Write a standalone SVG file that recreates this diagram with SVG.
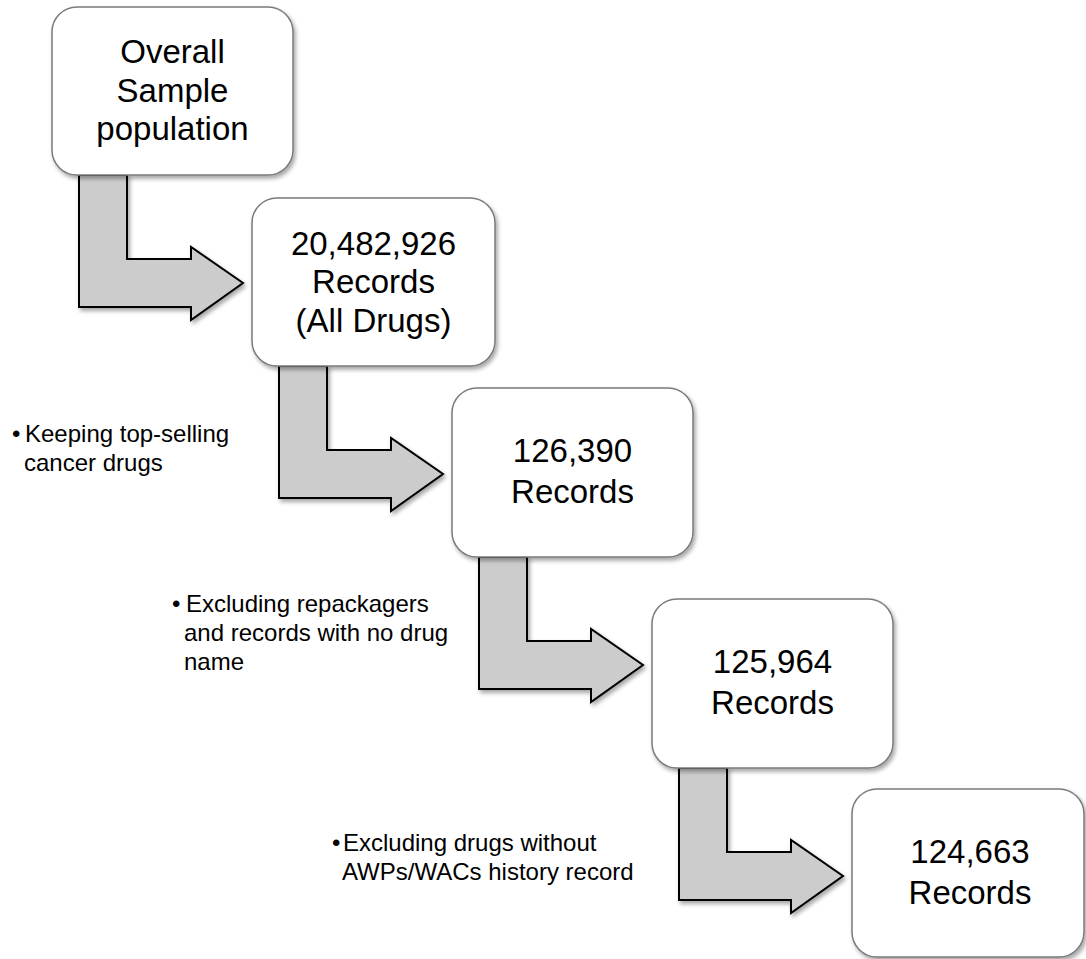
<svg xmlns="http://www.w3.org/2000/svg" width="1086" height="959" viewBox="0 0 1086 959">
  <defs>
    <filter id="shadow" x="-10%" y="-10%" width="130%" height="130%">
      <feDropShadow dx="2" dy="3" stdDeviation="2" flood-color="#000" flood-opacity="0.35"/>
    </filter>
    <style>
      .box { fill: #ffffff; stroke: #7a7a7a; stroke-width: 1.5; filter: url(#shadow); }
      .arrow { fill: #cccccc; stroke: #000000; stroke-width: 2; stroke-linejoin: miter; filter: url(#shadow); }
      .btxt { font-family: "Liberation Sans", Arial, sans-serif; font-size: 33px; fill: #000; text-anchor: middle; }
      .ltxt { font-family: "Liberation Sans", Arial, sans-serif; font-size: 24px; fill: #000; }
    </style>
  </defs>
  <rect width="1086" height="959" fill="#ffffff"/>

  <g id="connectors">
    <path class="arrow" d="M79,175 L127,175 L127,259 L191,259 L191,247 L243,283 L191,320 L191,307 L79,307 Z"/>
    <path class="arrow" d="M279,366 L327,366 L327,450 L391,450 L391,438 L443,474 L391,511 L391,498 L279,498 Z"/>
    <path class="arrow" d="M479,557 L527,557 L527,641 L591,641 L591,629 L643,665 L591,702 L591,689 L479,689 Z"/>
    <path class="arrow" d="M679,768 L727,768 L727,852 L791,852 L791,840 L843,876 L791,913 L791,900 L679,900 Z"/>
  </g>

  <g id="node-overall">
    <rect class="box" x="52" y="7" width="241" height="168" rx="25" ry="25"/>
    <text class="btxt" x="172.5" y="63">Overall</text>
    <text class="btxt" x="172.5" y="102">Sample</text>
    <text class="btxt" x="172.5" y="140">population</text>
  </g>

  <g id="node-all-drugs">
    <rect class="box" x="252" y="198" width="243" height="168" rx="25" ry="25"/>
    <text class="btxt" x="373.5" y="255">20,482,926</text>
    <text class="btxt" x="373.5" y="293">Records</text>
    <text class="btxt" x="373.5" y="332">(All Drugs)</text>
  </g>

  <g id="node-126390">
    <rect class="box" x="452" y="388" width="241" height="169" rx="25" ry="25"/>
    <text class="btxt" x="572.5" y="462">126,390</text>
    <text class="btxt" x="572.5" y="503">Records</text>
  </g>

  <g id="node-125964">
    <rect class="box" x="652" y="599" width="241" height="169" rx="25" ry="25"/>
    <text class="btxt" x="772.5" y="673">125,964</text>
    <text class="btxt" x="772.5" y="714">Records</text>
  </g>

  <g id="node-124663">
    <rect class="box" x="852" y="789" width="232" height="168" rx="25" ry="25"/>
    <text class="btxt" x="970" y="863">124,663</text>
    <text class="btxt" x="970" y="904">Records</text>
  </g>

  <g id="label-keeping">
    <text class="ltxt" y="442"><tspan x="12">•</tspan><tspan x="25">Keeping top-selling</tspan></text>
    <text class="ltxt" x="24" y="471">cancer drugs</text>
  </g>

  <g id="label-repackagers">
    <text class="ltxt" y="612"><tspan x="172">•</tspan><tspan x="186">Excluding repackagers</tspan></text>
    <text class="ltxt" x="184" y="641">and records with no drug</text>
    <text class="ltxt" x="184" y="670">name</text>
  </g>

  <g id="label-awps">
    <text class="ltxt" y="851"><tspan x="332">•</tspan><tspan x="343">Excluding drugs without</tspan></text>
    <text class="ltxt" x="342" y="880">AWPs/WACs history record</text>
  </g>
</svg>
